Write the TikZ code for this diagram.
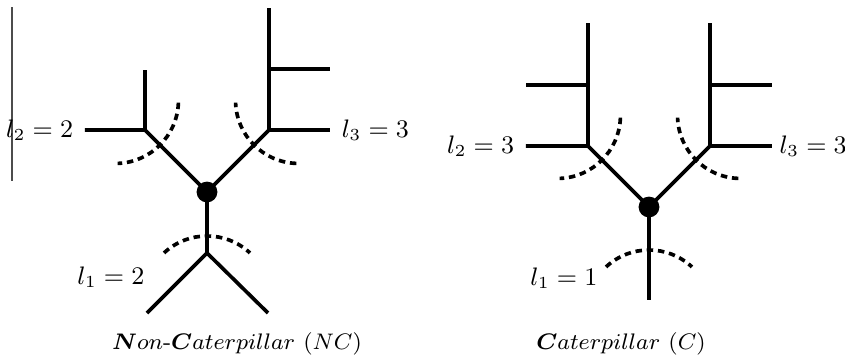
\documentclass[tikz,border=0pt]{standalone}
\usepackage{bm}
\usetikzlibrary{positioning}

\tikzset{
  branch/.style={line width=1.3pt},
  cut/.style={line width=1.3pt,dash pattern=on 2.3pt off 1.7pt},
  hub/.style={circle,fill,inner sep=0pt,minimum size=0.26cm},
  lab/.style={inner sep=0pt,font=\fontsize{9}{11}\selectfont},
  caption/.style={inner sep=0pt,font=\fontsize{8.1}{10}\selectfont},
}
% dashed cut across a branch: #1 = point on branch, #2 = outward direction
\newcommand{\cutmark}[2]{%
  \draw[cut] (#1) ++(#2:63) ++(#2+223:63) arc[start angle=#2+223,end angle=#2+137,radius=63];}

\begin{document}
\begin{tikzpicture}[x=0.0125cm,y=0.0125cm]
\useasboundingbox (0,0) rectangle (845,361);
\draw[black!70,line width=0.4pt] (12,354) -- (12,180);

% Non-Caterpillar
\begin{scope}[shift={(207,169)}]
\node[hub] (nc) at (0,0) {};
\coordinate (ncL) at (-62,62);
\coordinate (ncLa) at (-122,62);
\coordinate (ncLb) at (-62,122);
\coordinate (ncR) at (62,62);
\coordinate (ncRa) at (123,62);
\coordinate (ncRm) at (62,123);
\coordinate (ncRc) at (123,123);
\coordinate (ncRb) at (62,184);
\coordinate (ncD) at (0,-61);
\coordinate (ncDa) at (-60,-121);
\coordinate (ncDb) at (61,-121);
\draw[branch] (nc.center) -- (ncL) -- (ncLa);
\draw[branch] (ncL) -- (ncLb);
\draw[branch] (nc.center) -- (ncR) -- (ncRa);
\draw[branch] (ncR) -- (ncRb);
\draw[branch] (ncRm) -- (ncRc);
\draw[branch] (nc.center) -- (ncD) -- (ncDa);
\draw[branch] (ncD) -- (ncDb);
\cutmark{0,-44}{-90}
\cutmark{-47,47}{135}
\cutmark{47,47}{45}
\node[lab,left=4pt of ncLa] (ncl2) {$l_2 = 2$};
\node[lab,right=4pt of ncRa] (ncl3) {$l_3 = 3$};
\node[lab,anchor=east] (ncl1) at (-62,-85) {$l_1 = 2$};
\node[caption] (nccap) at (30,-152) {$\bm{N}on\mbox{-}\bm{C}aterpillar\ (NC)$};
\end{scope}

% Caterpillar
\begin{scope}[shift={(649,154)}]
\node[hub] (cc) at (0,0) {};
\coordinate (cL) at (-61,61);
\coordinate (cLa) at (-123,61);
\coordinate (cLm) at (-61,122);
\coordinate (cLc) at (-123,122);
\coordinate (cLb) at (-61,184);
\coordinate (cR) at (61,61);
\coordinate (cRa) at (123,61);
\coordinate (cRm) at (61,122);
\coordinate (cRc) at (123,122);
\coordinate (cRb) at (61,184);
\coordinate (cD) at (0,-93);
\draw[branch] (cc.center) -- (cL) -- (cLa);
\draw[branch] (cL) -- (cLb);
\draw[branch] (cLm) -- (cLc);
\draw[branch] (cc.center) -- (cR) -- (cRa);
\draw[branch] (cR) -- (cRb);
\draw[branch] (cRm) -- (cRc);
\draw[branch] (cc.center) -- (cD);
\cutmark{0,-43}{-90}
\cutmark{-47,47}{135}
\cutmark{47,47}{45}
\node[lab,left=4pt of cLa] (cl2) {$l_2 = 3$};
\node[lab,right=2.5pt of cRa] (cl3) {$l_3 = 3$};
\node[lab,anchor=east] (cl1) at (-51,-71) {$l_1 = 1$};
\node[caption] (ccap) at (-28,-137) {$\bm{C}aterpillar\ (C)$};
\end{scope}
\end{tikzpicture}
\end{document}
